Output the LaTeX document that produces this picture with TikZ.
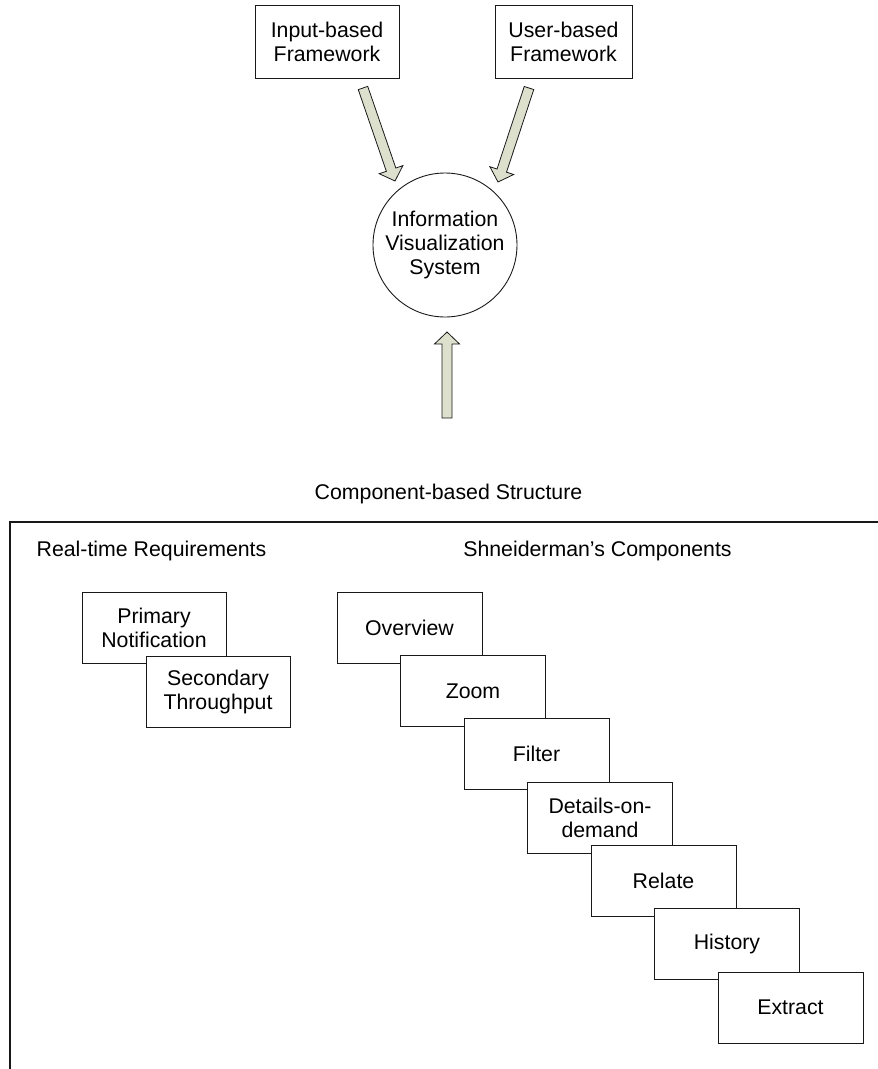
\documentclass[tikz,border=0pt]{standalone}
\usepackage{fontspec}
\setmainfont{Liberation Sans}
\usetikzlibrary{calc}
\definecolor{arrowfill}{RGB}{221,224,205}
\definecolor{linecol}{RGB}{25,25,25}
\newcommand\lblfont{\fontsize{21.3}{24}\selectfont}
\newcommand\blkarrow[2]{%
  \coordinate (#1n) at ($(#2)!12pt!(#1)$);
  \draw[blockarrow] ($(#1)!5pt!90:(#2)$) -- ($(#1n)!5pt!90:(#2)$) -- ($(#1n)!12.5pt!90:(#2)$)
    -- (#2) -- ($(#1n)!12.5pt!-90:(#2)$) -- ($(#1n)!5pt!-90:(#2)$) -- ($(#1)!5pt!-90:(#2)$) -- cycle;}
\tikzset{
  lbl/.style={font=\lblfont, inner sep=0pt, align=center},
  box/.style={lbl, draw=linecol, line width=0.9pt, fill=white, minimum width=145pt, minimum height=71pt},
  blockarrow/.style={draw=linecol, line width=0.8pt, fill=arrowfill, line join=miter},
  frame/.style={draw=linecol, line width=1.1pt}
}
\begin{document}
\begin{tikzpicture}[x=1pt,y=-1pt]
\useasboundingbox (0,0) rectangle (878,1069);
% top
\node[box, minimum width=144pt, minimum height=73pt] (inp) at (327,41.5) {Input-based\\Framework};
\node[box, minimum width=137pt, minimum height=73pt] (usr) at (563.5,41.5) {User-based\\Framework};
\node[lbl, draw=linecol, line width=0.9pt, circle, minimum size=144pt] (ivs) at (445,245) {Information\\Visualization\\System};
\coordinate (a1t) at (363,88);  \coordinate (a1h) at (395,181);
\coordinate (a2t) at (529,88);  \coordinate (a2h) at (498,182);
\coordinate (a3t) at (447,418); \coordinate (a3h) at (447,332);
\blkarrow{a1t}{a1h}
\blkarrow{a2t}{a2h}
\blkarrow{a3t}{a3h}
\node[lbl, anchor=base] (cbs) at (448.5,499.5) {Component-based Structure};
% frame
\draw[frame] (10,1069) -- (10,522) -- (878,522);
\node[lbl, anchor=base] (rtr) at (151.5,556) {Real-time Requirements};
\node[lbl, anchor=base] (shc) at (597.5,556) {Shneiderman’s Components};
% real-time boxes
\node[box, minimum width=144pt] (pn) at (154,627.5) {Primary\\Notification};
\node[box, minimum width=144pt] (st) at (218,691.5) {Secondary\\Throughput};
% Shneiderman boxes
\node[box] (ov) at (409.5,627.5) {Overview};
\node[box] (zm) at (473,690.8) {Zoom};
\node[box] (fi) at (536.5,754.2) {Filter};
\node[box] (dd) at (600,817.5) {Details-on-\\demand};
\node[box] (re) at (663.5,880.8) {Relate};
\node[box] (hi) at (727,944.2) {History};
\node[box] (ex) at (790.5,1007.5) {Extract};
\end{tikzpicture}
\end{document}
